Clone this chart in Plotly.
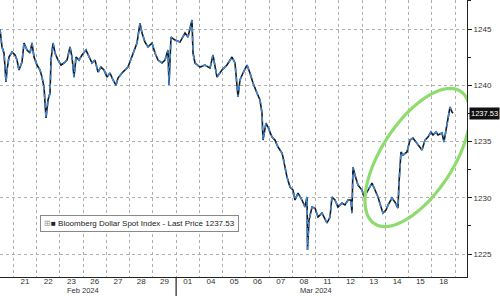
import math
import plotly.graph_objects as go

# trading-day position (0 = start of 21 Feb; weekends skipped) and index level
t_pos = [-0.572, -0.486, -0.400, -0.314, -0.271, -0.185, -0.056, 0.073, 0.159, 0.245,
         0.374, 0.460, 0.589, 0.718, 0.804, 0.890, 1.019, 1.148, 1.234, 1.320,
         1.406, 1.492, 1.578, 1.621, 1.707, 1.793, 1.922, 2.051, 2.180, 2.309,
         2.438, 2.524, 2.610, 2.696, 2.825, 2.953, 3.125, 3.254, 3.383, 3.512,
         3.641, 3.770, 3.899, 4.028, 4.157, 4.286, 4.415, 4.501, 4.673, 4.931,
         5.146, 5.318, 5.447, 5.533, 5.662, 5.791, 5.963, 6.092, 6.221, 6.393,
         6.522, 6.651, 6.694, 6.780, 6.952, 7.167, 7.382, 7.511, 7.683, 7.704,
         7.726, 7.812, 8.027, 8.241, 8.456, 8.585, 8.757, 8.972, 9.187, 9.402,
         9.531, 9.660, 9.746, 9.875, 10.047, 10.176, 10.305, 10.477, 10.606, 10.692,
         10.735, 10.864, 10.950, 11.122, 11.251, 11.380, 11.552, 11.595, 11.681, 11.767,
         11.896, 12.025, 12.111, 12.240, 12.412, 12.541, 12.627, 12.649, 12.713, 12.842,
         12.971, 13.100, 13.272, 13.400, 13.487, 13.616, 13.701, 13.830, 13.959, 14.131,
         14.260, 14.389, 14.518, 14.561, 14.604, 14.690, 14.819, 14.991, 15.077, 15.206,
         15.335, 15.421, 15.550, 15.679, 15.808, 15.894, 16.023, 16.109, 16.281, 16.410,
         16.539, 16.582, 16.668, 16.754, 16.926, 17.055, 17.184, 17.356, 17.485, 17.571,
         17.700, 17.829, 17.958, 18.044, 18.173, 18.259, 18.431, 18.517, 18.603, 18.689,
         18.775, 18.861, 18.904]
level = [1245.00, 1243.40, 1242.87, 1240.29, 1241.36, 1242.51, 1242.96, 1242.69, 1242.24, 1241.36,
         1242.07, 1243.76, 1243.13, 1242.87, 1243.76, 1242.51, 1241.80, 1241.36, 1240.73, 1239.84,
         1237.09, 1238.69, 1239.31, 1242.24, 1243.76, 1242.87, 1242.24, 1241.80, 1241.98, 1242.24,
         1243.40, 1242.51, 1240.73, 1242.51, 1242.24, 1242.69, 1243.13, 1242.51, 1241.98, 1242.24,
         1241.18, 1241.62, 1241.36, 1240.73, 1241.09, 1240.47, 1240.02, 1240.64, 1241.09, 1241.62,
         1242.87, 1243.76, 1245.53, 1244.64, 1243.84, 1243.40, 1243.76, 1242.87, 1242.24, 1241.98,
         1242.24, 1243.13, 1240.02, 1244.29, 1244.02, 1243.84, 1244.64, 1244.29, 1245.80, 1244.64,
         1242.87, 1241.98, 1241.62, 1241.80, 1241.53, 1242.69, 1240.73, 1241.36, 1241.80, 1242.51,
         1241.98, 1238.96, 1240.47, 1241.09, 1241.80, 1241.09, 1240.20, 1239.31, 1238.69, 1237.53,
         1235.13, 1236.64, 1236.29, 1235.40, 1235.13, 1234.51, 1233.98, 1233.62, 1232.73, 1231.84,
         1230.96, 1230.69, 1229.80, 1230.42, 1229.80, 1229.18, 1230.07, 1225.36, 1228.02, 1229.18,
         1229.09, 1228.29, 1228.64, 1228.02, 1227.76, 1228.29, 1230.07, 1229.80, 1229.18, 1229.53,
         1229.36, 1229.80, 1229.80, 1228.64, 1232.73, 1232.02, 1231.13, 1230.69, 1230.07, 1230.51,
         1230.96, 1231.31, 1230.69, 1230.07, 1229.18, 1228.64, 1228.91, 1229.36, 1229.98, 1229.62,
         1229.09, 1231.31, 1234.07, 1233.80, 1234.07, 1235.13, 1235.31, 1234.87, 1234.51, 1234.24,
         1235.13, 1235.40, 1235.84, 1235.58, 1235.84, 1235.58, 1235.76, 1234.96, 1236.02, 1237.18,
         1238.07, 1237.62, 1237.53]

day_labels = ["21", "22", "23", "26", "27", "28", "29", "01", "04", "05",
              "06", "07", "08", "11", "12", "13", "14", "15", "18"]
month_labels = ["Feb 2024", "Mar 2024"]
month_label_pos = [3.0, 13.0]
month_break = 7
last_price = 1237.53
series_name = "Bloomberg Dollar Spot Index - Last Price"

X_RANGE = [-0.572, 19.506]
Y_RANGE = [1222.96, 1247.58]
FONT = "Liberation Sans"

fig = go.Figure()
fig.add_trace(go.Scatter(x=t_pos, y=level, mode="lines",
                         line=dict(color="#1a1a1a", width=1.6), hoverinfo="skip"))
fig.add_trace(go.Scatter(x=t_pos, y=level, mode="lines",
                         line=dict(color="#3f86d6", width=1.6, dash="5px,4px"), hoverinfo="skip"))

# green ellipse highlight (pixel geometry -> data coords)
W, H = 500, 296
L, R, T, B = 0, 33, 0, 19
pw, ph = W - L - R, H - T - B
def px2x(px):
    return X_RANGE[0] + (px - L) / pw * (X_RANGE[1] - X_RANGE[0])
def py2y(py):
    return Y_RANGE[1] - (py - T) / ph * (Y_RANGE[1] - Y_RANGE[0])
cx, cy, a, b, th = 417.5, 157.5, 79, 36, math.radians(57)
pts = []
for i in range(73):
    ph_ = 2 * math.pi * i / 72
    px = cx + a * math.cos(ph_) * math.cos(th) - b * math.sin(ph_) * math.sin(th)
    py = cy - (a * math.cos(ph_) * math.sin(th) + b * math.sin(ph_) * math.cos(th))
    pts.append((px2x(px), py2y(py)))
path = "M " + " L ".join(f"{x:.4f},{y:.4f}" for x, y in pts) + " Z"
fig.add_shape(type="path", path=path, xref="x", yref="y",
              line=dict(color="#8fdc6e", width=3.2))

# month separator
fig.add_shape(type="line", xref="x", yref="paper", x0=month_break, x1=month_break,
              y0=0, y1=-0.08, line=dict(color="#222", width=1.2))

for lab, pos in zip(month_labels, month_label_pos):
    fig.add_annotation(x=pos, y=-0.0505, xref="x", yref="paper", text=lab,
                       showarrow=False, font=dict(size=7.5, color="#333", family=FONT),
                       yanchor="middle", borderpad=0)

fig.add_annotation(x=1.005, y=last_price, xref="paper", yref="y", text=f"{last_price:.2f}",
                   showarrow=False, xanchor="left", yanchor="middle", bgcolor="#111",
                   font=dict(size=7.5, color="white", family=FONT), borderpad=1)

fig.add_annotation(x=0.086, y=0.193, xref="paper", yref="paper",
                   text=f"<span style='color:#999'>⊞</span>■ {series_name} {last_price:.2f}",
                   showarrow=False, xanchor="left", yanchor="middle", bgcolor="white",
                   bordercolor="#888", borderwidth=1, borderpad=3,
                   font=dict(size=8, color="#222", family=FONT))

fig.update_layout(
    width=W, height=H, margin=dict(l=L, r=R, t=T, b=B),
    plot_bgcolor="white", paper_bgcolor="white", showlegend=False,
    xaxis=dict(range=X_RANGE, tickmode="array",
               tickvals=[i + 0.5 for i in range(len(day_labels))], ticktext=day_labels,
               showgrid=False, ticks="", showline=True, linecolor="#222", linewidth=1,
               tickfont=dict(size=8, color="#333", family=FONT), ticklabelstandoff=-4,
               zeroline=False,
               minor=dict(tickmode="linear", tick0=0, dtick=1, showgrid=True,
                          gridcolor="#b0b0b0", griddash="dot", gridwidth=1, ticks="")),
    yaxis=dict(range=Y_RANGE, side="right", tickmode="linear", tick0=1225, dtick=5,
               showgrid=True, gridcolor="#b0b0b0", griddash="dot", gridwidth=1,
               ticks="outside", ticklen=4, tickcolor="#222", showline=True,
               linecolor="#222", linewidth=1, zeroline=False,
               tickfont=dict(size=8, color="#333", family=FONT),
               minor=dict(tick0=1222.5, dtick=5, ticks="outside", ticklen=3, tickcolor="#222",
                          showgrid=False)),
)
fig.write_html("out.html")
